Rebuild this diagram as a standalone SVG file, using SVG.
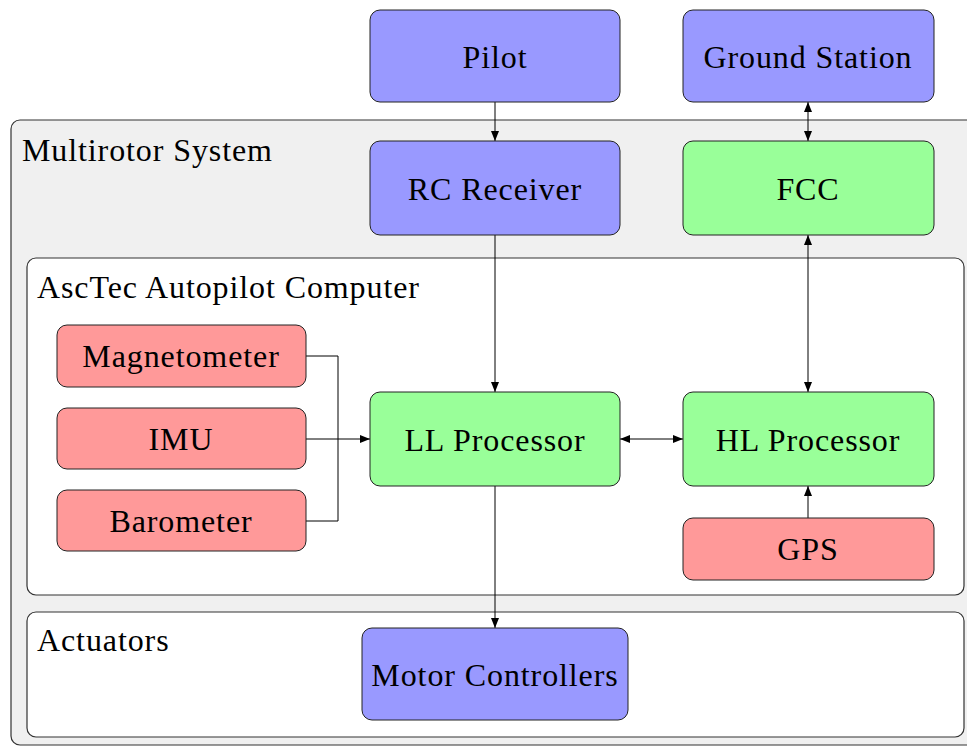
<svg xmlns="http://www.w3.org/2000/svg" width="967" height="747" viewBox="0 0 967 747">
  <style>
    .lbl { text-anchor: middle; dominant-baseline: central; }
    .node { stroke: #222; stroke-width: 1; }
    .blue { fill: #9999ff; }
    .green { fill: #99ff99; }
    .red { fill: #ff9999; }
    .group { stroke: #333; stroke-width: 1.2; }
    .wire { fill: none; stroke: #000; stroke-width: 1; }
  </style>
  <defs>
    <marker id="tip" viewBox="0 0 10 8" refX="10" refY="4" markerWidth="10" markerHeight="8" markerUnits="userSpaceOnUse" orient="auto-start-reverse">
      <path d="M0,0 L10,4 L0,8 Z" fill="#000"/>
    </marker>
  </defs>

  <!-- containers -->
  <g id="multirotor-system">
    <rect class="group" x="11" y="120" width="980" height="625" rx="9" fill="#f0f0f0"/>
    <text x="22" y="161" font-family="Liberation Serif" font-size="32" letter-spacing="0.9">Multirotor System</text>
  </g>
  <g id="asctec-autopilot">
    <rect class="group" x="27" y="258" width="937" height="337" rx="9" fill="#fff"/>
    <text x="37" y="298" font-family="Liberation Serif" font-size="32" letter-spacing="0.9">AscTec Autopilot Computer</text>
  </g>
  <g id="actuators">
    <rect class="group" x="27" y="612" width="937" height="125" rx="9" fill="#fff"/>
    <text x="37" y="651" font-family="Liberation Serif" font-size="32" letter-spacing="0.9">Actuators</text>
  </g>

  <!-- connectors -->
  <g id="connectors">
    <line class="wire" x1="495" y1="102" x2="495" y2="141" marker-end="url(#tip)"/>
    <line class="wire" x1="808" y1="102" x2="808" y2="141" marker-start="url(#tip)" marker-end="url(#tip)"/>
    <line class="wire" x1="495" y1="235" x2="495" y2="392" marker-end="url(#tip)"/>
    <line class="wire" x1="808" y1="235" x2="808" y2="392" marker-start="url(#tip)" marker-end="url(#tip)"/>
    <line class="wire" x1="620" y1="439" x2="683" y2="439" marker-start="url(#tip)" marker-end="url(#tip)"/>
    <line class="wire" x1="495" y1="486" x2="495" y2="628" marker-end="url(#tip)"/>
    <line class="wire" x1="808" y1="518" x2="808" y2="486" marker-end="url(#tip)"/>
    <polyline class="wire" points="306,356 338,356 338,439"/>
    <polyline class="wire" points="306,521 338,521 338,439"/>
    <line class="wire" x1="306" y1="439" x2="370" y2="439" marker-end="url(#tip)"/>
  </g>

  <!-- nodes -->
  <g id="pilot">
    <rect class="node blue" x="370" y="10" width="250" height="92" rx="10"/>
    <text class="lbl" x="495" y="57" font-family="Liberation Serif" font-size="32" letter-spacing="0.9">Pilot</text>
  </g>
  <g id="ground-station">
    <rect class="node blue" x="683" y="10" width="251" height="92" rx="10"/>
    <text class="lbl" x="808" y="57" font-family="Liberation Serif" font-size="32" letter-spacing="0.9">Ground Station</text>
  </g>
  <g id="rc-receiver">
    <rect class="node blue" x="370" y="141" width="250" height="94" rx="10"/>
    <text class="lbl" x="495" y="189" font-family="Liberation Serif" font-size="32" letter-spacing="0.9">RC Receiver</text>
  </g>
  <g id="fcc">
    <rect class="node green" x="683" y="141" width="251" height="94" rx="10"/>
    <text class="lbl" x="808" y="189" font-family="Liberation Serif" font-size="32" letter-spacing="0.9">FCC</text>
  </g>
  <g id="magnetometer">
    <rect class="node red" x="57" y="325" width="249" height="62" rx="10"/>
    <text class="lbl" x="181" y="356" font-family="Liberation Serif" font-size="32" letter-spacing="0.9">Magnetometer</text>
  </g>
  <g id="imu">
    <rect class="node red" x="57" y="408" width="249" height="61" rx="10"/>
    <text class="lbl" x="181" y="439" font-family="Liberation Serif" font-size="32" letter-spacing="0.9">IMU</text>
  </g>
  <g id="barometer">
    <rect class="node red" x="57" y="490" width="249" height="61" rx="10"/>
    <text class="lbl" x="181" y="521" font-family="Liberation Serif" font-size="32" letter-spacing="0.9">Barometer</text>
  </g>
  <g id="ll-processor">
    <rect class="node green" x="370" y="392" width="250" height="94" rx="10"/>
    <text class="lbl" x="495" y="440" font-family="Liberation Serif" font-size="32" letter-spacing="0.9">LL Processor</text>
  </g>
  <g id="hl-processor">
    <rect class="node green" x="683" y="392" width="251" height="94" rx="10"/>
    <text class="lbl" x="808" y="440" font-family="Liberation Serif" font-size="32" letter-spacing="0.9">HL Processor</text>
  </g>
  <g id="gps">
    <rect class="node red" x="683" y="518" width="251" height="62" rx="10"/>
    <text class="lbl" x="808" y="549" font-family="Liberation Serif" font-size="32" letter-spacing="0.9">GPS</text>
  </g>
  <g id="motor-controllers">
    <rect class="node blue" x="362" y="628" width="266" height="92" rx="10"/>
    <text class="lbl" x="495" y="675" font-family="Liberation Serif" font-size="32" letter-spacing="0.9">Motor Controllers</text>
  </g>
</svg>
